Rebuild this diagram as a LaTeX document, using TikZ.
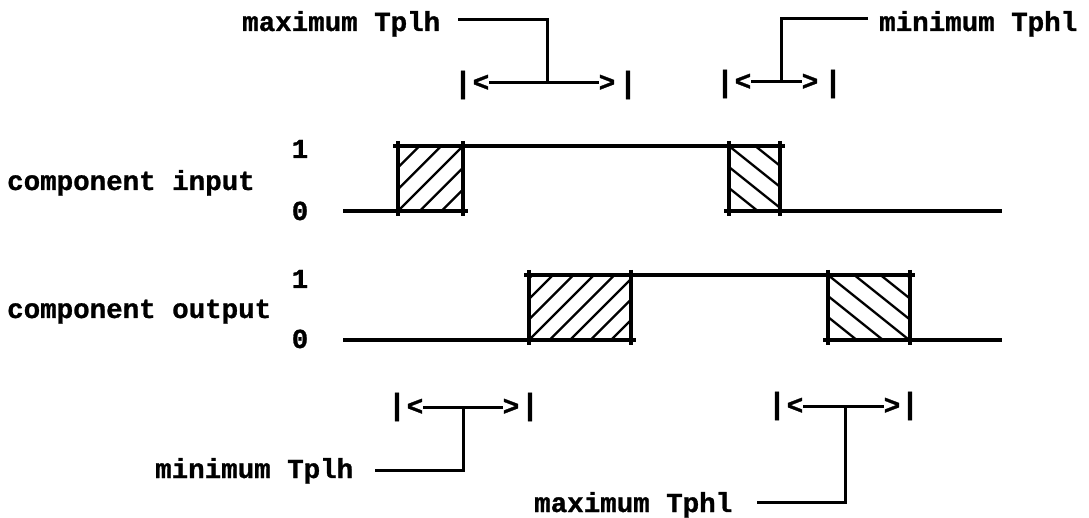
\documentclass[tikz,border=0pt]{standalone}
\usepackage{fontspec}
\newfontfamily\lblfont{Liberation Mono}[BoldFeatures={FakeBold=1}]
\begin{document}
\begin{tikzpicture}[x=1pt,y=-1pt,
  wave/.style={line width=3.2pt},
  hatch/.style={line width=2.3pt},
  leader/.style={line width=3pt},
  lbl/.style={font=\lblfont\bfseries\fontsize{27.5}{30}\selectfont, inner sep=0pt},
  tip/.style={lbl, anchor=center},
  stopbar/.style={font=\lblfont\bfseries\fontsize{30}{32}\selectfont, inner sep=0pt, anchor=center},
]
\useasboundingbox (0,0) rectangle (1089,518);

% ---- signal names and logic levels
\node[lbl,anchor=base west] (inName)  at (7,190) {component input};
\node[lbl,anchor=base west] (outName) at (7,318) {component output};
\node[lbl,anchor=base] (inHi)  at (300,158) {1};
\node[lbl,anchor=base] (inLo)  at (300,220) {0};
\node[lbl,anchor=base] (outHi) at (300,288) {1};
\node[lbl,anchor=base] (outLo) at (300,348) {0};

% ---- hatched uncertainty windows
\begin{scope}
  \clip (398,146) rectangle (463,211);
  \foreach \k in {-3,...,3} \draw[hatch] (398+\k*21.7,211) -- ++(90,-90);
\end{scope}
\begin{scope}
  \clip (729,146) rectangle (780,211);
  \foreach \k in {-3,...,3} \draw[hatch] (729,146+\k*21) -- ++(100,80);
\end{scope}
\begin{scope}
  \clip (529,275) rectangle (631,340);
  \foreach \k in {-4,...,5} \draw[hatch] (529+\k*20.5,340) -- ++(90,-90);
\end{scope}
\begin{scope}
  \clip (828,275) rectangle (910,340);
  \foreach \k in {-5,...,3} \draw[hatch] (828,275+\k*21) -- ++(120,96);
\end{scope}

% ---- input waveform
\draw[wave] (343,211) -- (468,211);
\draw[wave] (393,146) -- (785,146);
\draw[wave] (724,211) -- (1002,211);
\foreach \x in {398,463,729,780} \draw[wave] (\x,141) -- (\x,216);

% ---- output waveform
\draw[wave] (343,340) -- (636,340);
\draw[wave] (524,275) -- (915,275);
\draw[wave] (823,340) -- (1002,340);
\foreach \x in {529,631,828,910} \draw[wave] (\x,270) -- (\x,345);

% ---- maximum Tplh (top left)
\node[lbl,anchor=base west] (maxTplh) at (242,31) {maximum Tplh};
\node[stopbar] (b1l) at (463,85) {|};
\node[tip] (t1l) at (481,83) {<};
\node[tip] (t1r) at (607,83) {>};
\node[stopbar] (b1r) at (628,85) {|};
\draw[leader] (t1l.east) -- (t1r.west);
\coordinate (c1) at (458,20);
\coordinate (j1) at (547,83);
\draw[leader] (c1) -| (j1);

% ---- minimum Tphl (top right)
\node[lbl,anchor=base west] (minTphl) at (879,31) {minimum Tphl};
\node[stopbar] (b2l) at (725,84) {|};
\node[tip] (t2l) at (743,82) {<};
\node[tip] (t2r) at (810,82) {>};
\node[stopbar] (b2r) at (833,84) {|};
\draw[leader] (t2l.east) -- (t2r.west);
\coordinate (c2) at (868,19);
\coordinate (j2) at (781,82);
\draw[leader] (c2) -| (j2);

% ---- minimum Tplh (bottom left)
\node[lbl,anchor=base west] (minTplh) at (155,478) {minimum Tplh};
\node[stopbar] (b3l) at (397,407) {|};
\node[tip] (t3l) at (415,407) {<};
\node[tip] (t3r) at (511,407) {>};
\node[stopbar] (b3r) at (530,407) {|};
\draw[leader] (t3l.east) -- (t3r.west);
\coordinate (j3) at (463,407);
\coordinate (c3) at (375,470);
\draw[leader] (j3) |- (c3);

% ---- maximum Tphl (bottom right)
\node[lbl,anchor=base west] (maxTphl) at (534,512) {maximum Tphl};
\node[stopbar] (b4l) at (777,406) {|};
\node[tip] (t4l) at (795,406) {<};
\node[tip] (t4r) at (892,406) {>};
\node[stopbar] (b4r) at (910,406) {|};
\draw[leader] (t4l.east) -- (t4r.west);
\coordinate (j4) at (845,406);
\coordinate (c4) at (757,502);
\draw[leader] (j4) |- (c4);
\end{tikzpicture}
\end{document}
